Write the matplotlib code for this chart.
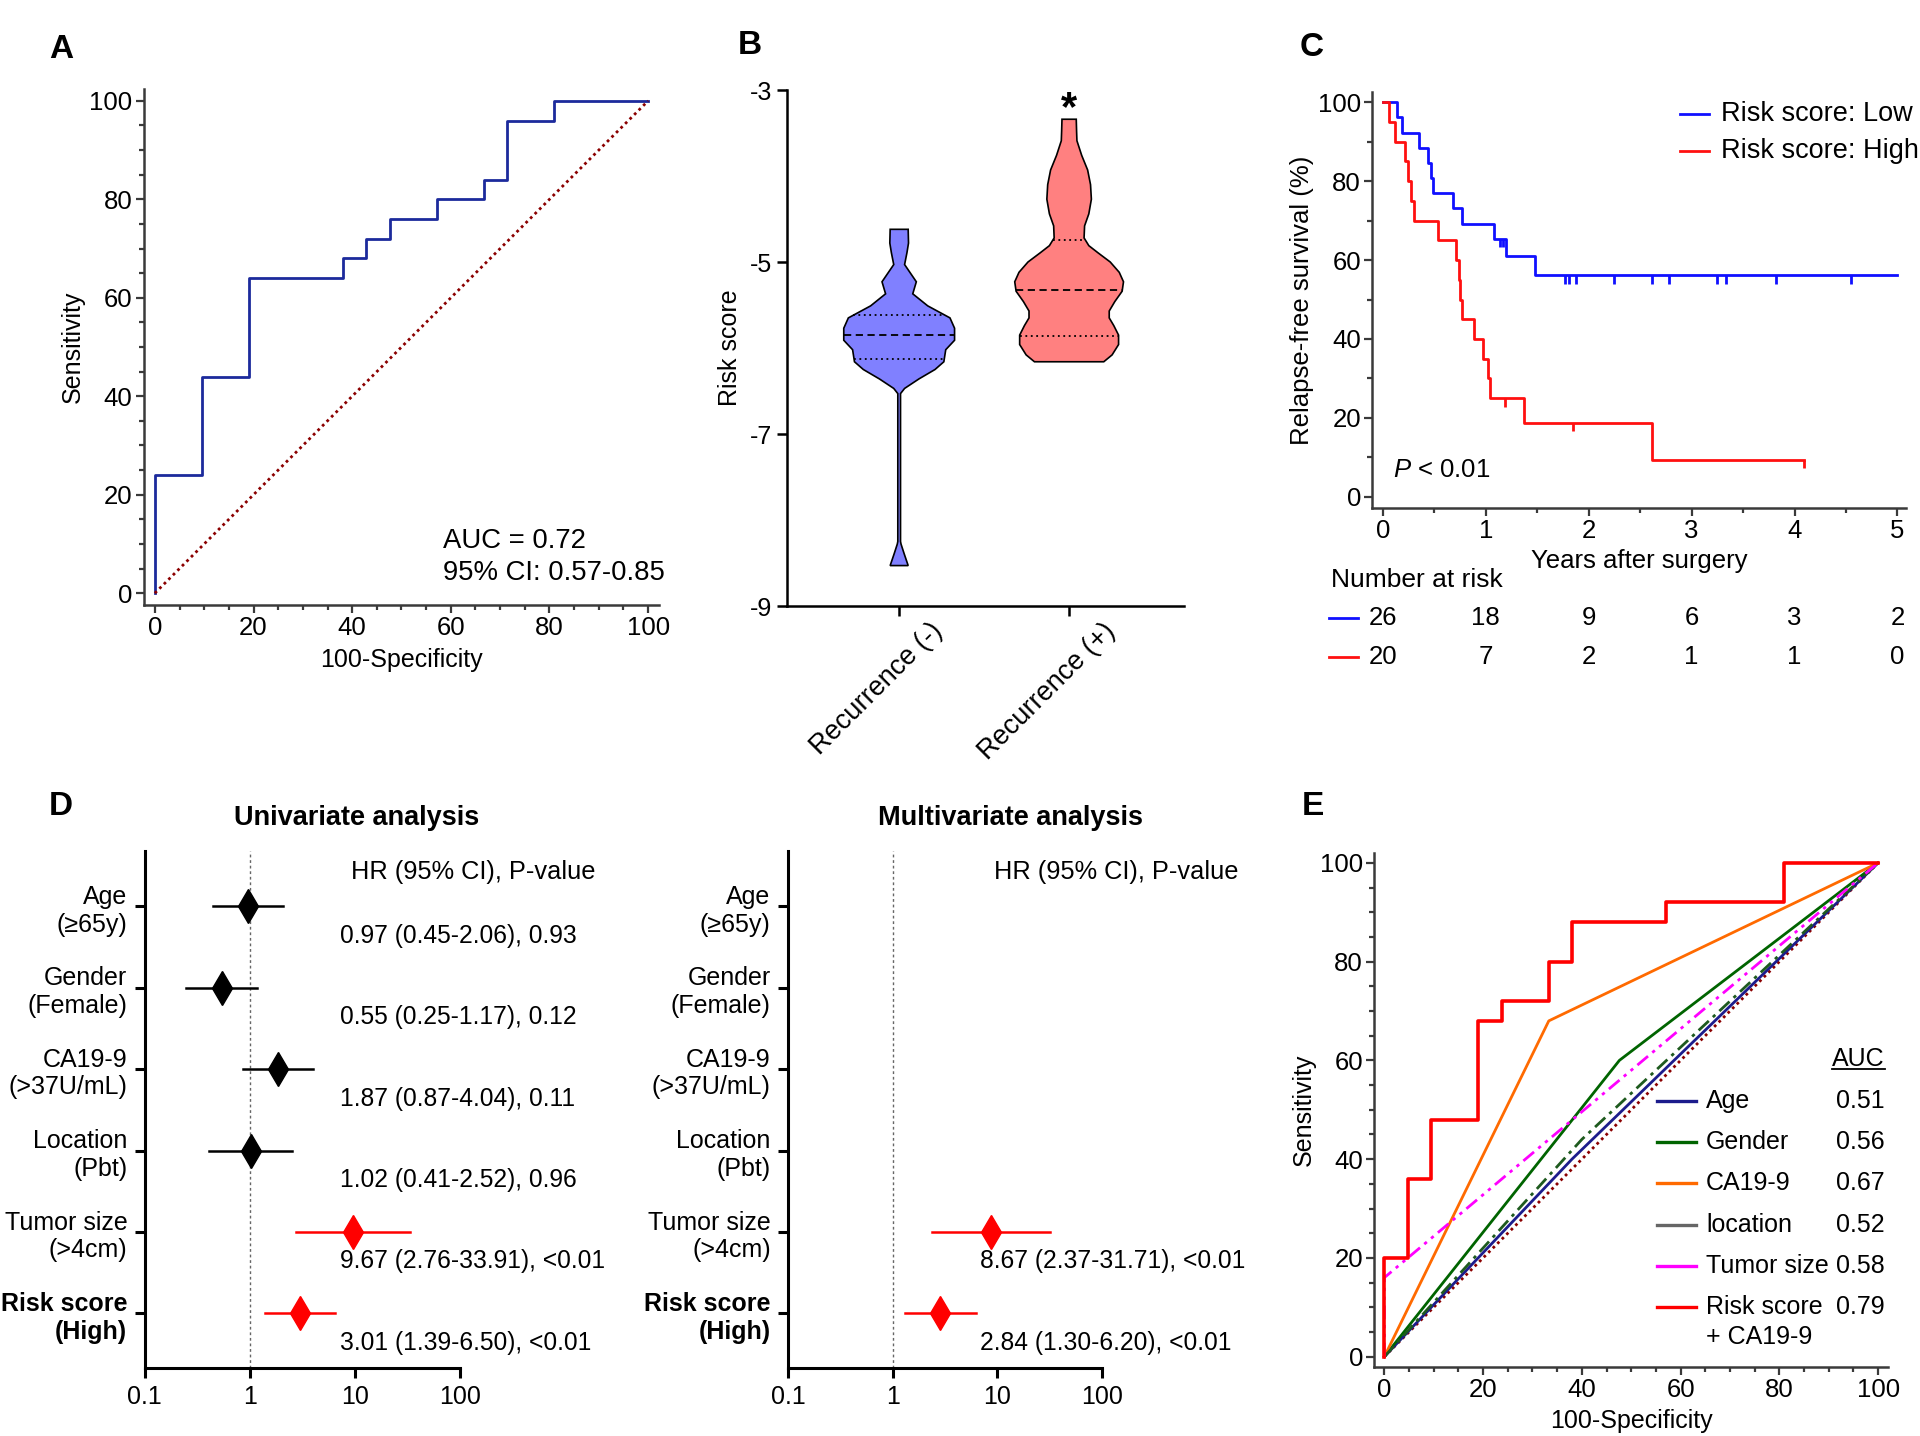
import numpy as np
import matplotlib
matplotlib.use('Agg')
import matplotlib.pyplot as plt
import matplotlib.transforms as mtrans
from matplotlib.ticker import MultipleLocator

plt.rcParams['font.family'] = ['Liberation Sans', 'DejaVu Sans']
plt.rcParams['mathtext.fontset'] = 'custom'
plt.rcParams['mathtext.rm'] = 'Liberation Sans'
plt.rcParams['mathtext.it'] = 'Liberation Sans:italic'
plt.rcParams['axes.unicode_minus'] = False
plt.rcParams['font.size'] = 18

# ---------------- data ----------------
# A: ROC of the risk score
roc_fpr = [0, 0, 9.5, 9.5, 19.0, 19.0, 38.1, 38.1, 42.9, 42.9, 47.6, 47.6,
           57.1, 57.1, 66.7, 66.7, 71.4, 71.4, 81.0, 81.0, 100]
roc_tpr = [0, 24, 24, 44, 44, 64, 64, 68, 68, 72, 72, 76, 76, 80, 80, 84,
           84, 96, 96, 100, 100]
roc_note = ['AUC = 0.72', '95% CI: 0.57-0.85']

# B: violin outlines (risk score level, half width)
groups = ['Recurrence (-)', 'Recurrence (+)']
neg_y = [-4.62, -4.78, -4.89, -5.03, -5.23, -5.37, -5.51, -5.65, -5.77, -5.91,
         -6.02, -6.16, -6.25, -6.36, -6.47, -6.53, -8.25, -8.28, -8.39, -8.53]
neg_w = [0.053, 0.055, 0.046, 0.032, 0.101, 0.080, 0.168, 0.299, 0.326, 0.326,
         0.274, 0.263, 0.211, 0.116, 0.032, 0.008, 0.008, 0.011, 0.029, 0.053]
neg_lines = [-6.13, -5.85, -5.62]   # q1, median, q3
pos_y = [-3.34, -3.48, -3.59, -3.76, -3.93, -4.10, -4.27, -4.44, -4.58, -4.72,
         -4.81, -4.89, -5.00, -5.12, -5.23, -5.34, -5.46, -5.57, -5.65, -5.74,
         -5.85, -5.96, -6.08, -6.16]
pos_w = [0.042, 0.044, 0.046, 0.074, 0.109, 0.126, 0.131, 0.116, 0.091, 0.088,
         0.116, 0.168, 0.242, 0.295, 0.320, 0.312, 0.269, 0.236, 0.236, 0.263,
         0.291, 0.291, 0.253, 0.204]
pos_lines = [-5.86, -5.32, -4.74]

# C: Kaplan-Meier
low_t = [0, 0.14, 0.19, 0.35, 0.44, 0.47, 0.49, 0.68, 0.77, 1.08, 1.20, 1.48, 5.0]
low_s = [100, 96.2, 92.3, 88.5, 84.6, 80.8, 76.9, 73.1, 69.2, 65.4, 61.0, 56.2, 56.2]
low_cens = [1.14, 1.17, 1.77, 1.81, 1.88, 2.25, 2.61, 2.78, 3.25, 3.33, 3.82, 4.55]
high_t = [0, 0.06, 0.12, 0.21, 0.24, 0.27, 0.30, 0.54, 0.71, 0.735, 0.75, 0.77,
          0.89, 0.97, 1.02, 1.04, 1.37, 2.61, 4.09]
high_s = [100, 95, 90, 85, 80, 75, 70, 65, 60, 55, 50, 45, 40, 35, 30, 25,
          18.8, 9.4, 9.4]
high_cens = [1.19, 1.85, 4.09]
risk_years = [0, 1, 2, 3, 4, 5]
risk_low = [26, 18, 9, 6, 3, 2]
risk_high = [20, 7, 2, 1, 1, 0]

# D: Cox regression
factors = ['Age\n(\u226565y)', 'Gender\n(Female)', 'CA19-9\n(>37U/mL)',
           'Location\n(Pbt)', 'Tumor size\n(>4cm)', 'Risk score\n(High)']
uni_hr = [0.97, 0.55, 1.87, 1.02, 9.67, 3.01]
uni_lo = [0.45, 0.25, 0.87, 0.41, 2.76, 1.39]
uni_hi = [2.06, 1.17, 4.04, 2.52, 33.91, 6.50]
uni_p = ['0.93', '0.12', '0.11', '0.96', '<0.01', '<0.01']
nan = np.nan
multi_hr = [nan, nan, nan, nan, 8.67, 2.84]
multi_lo = [nan, nan, nan, nan, 2.37, 1.30]
multi_hi = [nan, nan, nan, nan, 31.71, 6.20]
multi_p = ['', '', '', '', '<0.01', '<0.01']

# E: ROC comparison
e_names = ['Age', 'Gender', 'CA19-9', 'location', 'Tumor size', 'Risk score\n+ CA19-9']
e_auc = ['0.51', '0.56', '0.67', '0.52', '0.58', '0.79']
age_fpr, age_tpr = [0, 38, 100], [0, 40, 100]
gen_fpr, gen_tpr = [0, 47.6, 100], [0, 60, 100]
ca_fpr, ca_tpr = [0, 33.3, 100], [0, 68, 100]
loc_fpr, loc_tpr = [0, 40, 100], [0, 44, 100]
tum_fpr, tum_tpr = [0, 0, 100], [0, 16, 100]
comb_fpr = [0, 0, 4.8, 4.8, 9.5, 9.5, 19.0, 19.0, 23.8, 23.8, 33.3, 33.3,
            38.1, 38.1, 57.1, 57.1, 81.0, 81.0, 100]
comb_tpr = [0, 20, 20, 36, 36, 48, 48, 68, 68, 72, 72, 80, 80, 88, 88, 92,
            92, 100, 100]

# ---------------- figure ----------------
W, H = 1920, 1436
fig = plt.figure(figsize=(W / 100, H / 100), dpi=100)


def box(l, t, r, b):
    return [l / W, 1 - b / H, (r - l) / W, (b - t) / H]


def gray_axes(ax, col='#3a3a3a'):
    for s in ['top', 'right']:
        ax.spines[s].set_visible(False)
    for s in ['left', 'bottom']:
        ax.spines[s].set_color(col)
        ax.spines[s].set_linewidth(1.8)
    ax.tick_params(which='both', direction='out', color=col, width=1.6)
    ax.tick_params(which='major', length=5.5, pad=2.5, labelsize=18.5)
    ax.tick_params(which='minor', length=3.5)


def panel(x, y, s):
    fig.text(x / W, 1 - y / H, s, fontsize=24, weight='bold', ha='center', va='center')


# ----- A -----
axA = fig.add_axes(box(143.5, 89.5, 659, 605))
gray_axes(axA)
axA.plot(roc_fpr, roc_tpr, color='#1c2a9c', lw=2)
axA.plot([0, 100], [0, 100], color='#8b0000', lw=2, ls=(0, (1, 1.3)))
axA.set_xlim(-2.3, 102.2)
axA.set_ylim(-2.4, 102.3)
axA.xaxis.set_major_locator(MultipleLocator(20))
axA.xaxis.set_minor_locator(MultipleLocator(5))
axA.yaxis.set_major_locator(MultipleLocator(20))
axA.yaxis.set_minor_locator(MultipleLocator(5))
axA.set_xlabel('100-Specificity', fontsize=18, labelpad=6)
axA.set_ylabel('Sensitivity', fontsize=18, labelpad=3)
axA.text(58.5, 10.6, roc_note[0], fontsize=19.8, va='center')
axA.text(58.5, 4.1, roc_note[1], fontsize=19.8, va='center')
panel(61, 49, 'A')

# ----- B -----
axB = fig.add_axes(box(787, 90, 1184, 606))
for s in ['top', 'right']:
    axB.spines[s].set_visible(False)
for s in ['left', 'bottom']:
    axB.spines[s].set_linewidth(1.8)
violins = [(neg_y, neg_w, neg_lines, '#8080ff'), (pos_y, pos_w, pos_lines, '#ff8080')]
for i, (vy, vw, ql, fc) in enumerate(violins):
    vy = np.array(vy)
    vw = np.array(vw)
    xs = np.concatenate([i - vw, (i + vw)[::-1]])
    ys = np.concatenate([vy, vy[::-1]])
    axB.fill(xs, ys, facecolor=fc, edgecolor='black', lw=1.2, zorder=2)
    for k, q in enumerate(ql):
        hw = np.interp(q, vy[::-1], vw[::-1])
        axB.plot([i - hw, i + hw], [q, q], color='black', lw=1.3, zorder=3,
                 ls=(0, (4, 2.5)) if k == 1 else (0, (1, 2)))
axB.text(1, -3.22, '*', fontsize=30, weight='bold', ha='center', va='center')
axB.set_xlim(-0.66, 1.676)
axB.set_ylim(-9, -3)
axB.set_yticks([-9, -7, -5, -3])
axB.set_xticks([0, 1])
axB.set_xticklabels([])
lab_tr = (mtrans.blended_transform_factory(axB.transData, axB.transAxes)
          + mtrans.ScaledTranslation(-0.22, -0.12, fig.dpi_scale_trans))
for i, g in enumerate(groups):
    axB.text(i, 0, g, rotation=45, ha='center', va='top', fontsize=19.5, transform=lab_tr)
axB.tick_params(direction='out', length=7, width=1.8)
axB.tick_params(axis='y', labelsize=18)
axB.set_ylabel('Risk score', fontsize=18, labelpad=6)
panel(750, 46, 'B')

# ----- C -----
axC = fig.add_axes(box(1372, 92, 1906, 508))
gray_axes(axC)
for ts, ss, cens, col in [(low_t, low_s, low_cens, '#1010ff'),
                          (high_t, high_s, high_cens, '#ff1010')]:
    axC.plot(ts, ss, drawstyle='steps-post', color=col, lw=2)
    idx = np.searchsorted(ts, cens, side='right') - 1
    cy = np.array(ss)[idx]
    axC.vlines(cens, cy - 2.2, cy, color=col, lw=2)
axC.set_xlim(-0.106, 5.083)
axC.set_ylim(-2.84, 102.6)
axC.xaxis.set_major_locator(MultipleLocator(1))
axC.xaxis.set_minor_locator(MultipleLocator(0.5))
axC.yaxis.set_major_locator(MultipleLocator(20))
axC.yaxis.set_minor_locator(MultipleLocator(10))
axC.set_xlabel('Years after surgery', fontsize=18.5, labelpad=4)
axC.set_ylabel('Relapse-free survival (%)', fontsize=18.5, labelpad=3)
axC.text(0.1, 6.7, '$\\it{P}$ < 0.01', fontsize=18.5, va='center')
leg_rows = [('Risk score: Low', '#1010ff', 0.947), ('Risk score: High', '#ff1010', 0.859)]
for lab, col, yy in leg_rows:
    axC.plot([0.577, 0.631], [yy, yy], color=col, lw=2, transform=axC.transAxes, clip_on=False)
    axC.text(0.653, yy, lab, fontsize=19.5, va='center', transform=axC.transAxes)
tr = mtrans.blended_transform_factory(axC.transData, axC.transAxes)
axC.text(-0.077, -0.173, 'Number at risk', fontsize=19, va='center', transform=axC.transAxes)
for nums, col, yy in [(risk_low, '#1010ff', -0.264), (risk_high, '#ff1010', -0.358)]:
    axC.plot([-0.0805, -0.026], [yy, yy], color=col, lw=2, transform=axC.transAxes, clip_on=False)
    for xv, n in zip(risk_years, nums):
        axC.text(xv, yy, str(n), fontsize=18.5, ha='center', va='center', transform=tr)
panel(1312, 47, 'C')


# ----- D -----
def forest(ax, hr, lo, hi, pv, title, tx, hx, vx):
    rows = np.arange(len(factors))
    for s in ['top', 'right']:
        ax.spines[s].set_visible(False)
    for s in ['left', 'bottom']:
        ax.spines[s].set_linewidth(2.2)
    ax.set_xscale('log')
    ax.set_xlim(0.1, 100)
    ax.set_ylim(5.67, -0.68)
    ax.set_xticks([0.1, 1, 10, 100])
    ax.set_xticklabels(['0.1', '1', '10', '100'])
    ax.xaxis.set_minor_locator(matplotlib.ticker.NullLocator())
    ax.set_yticks(rows)
    ax.set_yticklabels(factors, fontsize=18, linespacing=1.2)
    ax.get_yticklabels()[-1].set_fontweight('bold')
    ax.tick_params(direction='out', length=7.5, width=2.2, labelsize=18, pad=5)
    ax.axvline(1, color='0.4', lw=1, ls=(0, (2, 2)), zorder=1)
    bt = mtrans.blended_transform_factory(ax.transAxes, ax.transData)
    ax.text(hx, -0.42, 'HR (95% CI), P-value', fontsize=18.3, va='center', transform=bt)
    for i in rows:
        if np.isnan(hr[i]):
            continue
        col = 'red' if pv[i].startswith('<') else 'black'
        ax.plot([lo[i], hi[i]], [i, i], color=col, lw=1.8, zorder=2)
        ax.plot(hr[i], i, marker='d', ms=17, color=col, zorder=3)
        ax.text(vx, i + 0.36, f'{hr[i]:.2f} ({lo[i]:.2f}-{hi[i]:.2f}), {pv[i]}',
                fontsize=17.7, va='center', transform=bt)
    ax.text(tx, 1.064, title, fontsize=19.5, weight='bold', ha='center', va='center',
            transform=ax.transAxes)


axD1 = fig.add_axes(box(144.7, 851, 459.7, 1368))
forest(axD1, uni_hr, uni_lo, uni_hi, uni_p, 'Univariate analysis', 0.673, 0.655, 0.62)
axD2 = fig.add_axes(box(788, 851, 1102, 1368))
forest(axD2, multi_hr, multi_lo, multi_hi, multi_p, 'Multivariate analysis', 0.71, 0.655, 0.613)
panel(61, 807, 'D')

# ----- E -----
axE = fig.add_axes(box(1374, 853, 1888, 1367))
gray_axes(axE)
e_styles = [
    (age_fpr, age_tpr, '#1c1c8c', '-', '#1c1c8c'),
    (gen_fpr, gen_tpr, '#006400', '-', '#006400'),
    (ca_fpr, ca_tpr, '#ff6a00', '-', '#ff6a00'),
    (loc_fpr, loc_tpr, '#1e5a1e', (0, (5, 2, 1.2, 2)), '#666666'),
    (tum_fpr, tum_tpr, '#ff00ff', (0, (5, 2, 1.2, 2, 1.2, 2)), '#ff00ff'),
    (comb_fpr, comb_tpr, '#ff0000', '-', '#ff0000'),
]
axE.plot([0, 100], [0, 100], color='#8b0000', lw=2, ls=(0, (1, 1.3)))
for fx, fy, col, ls, _ in e_styles:
    axE.plot(fx, fy, color=col, lw=2.6 if col == '#ff0000' else 2, ls=ls)
axE.set_xlim(-2.1, 102)
axE.set_ylim(-2.1, 102)
axE.xaxis.set_major_locator(MultipleLocator(20))
axE.xaxis.set_minor_locator(MultipleLocator(5))
axE.yaxis.set_major_locator(MultipleLocator(20))
axE.yaxis.set_minor_locator(MultipleLocator(5))
axE.set_xlabel('100-Specificity', fontsize=18, labelpad=5)
axE.set_ylabel('Sensitivity', fontsize=18, labelpad=3)
row_y = 0.5175
row_dy = 0.0802
for i, (name, auc) in enumerate(zip(e_names, e_auc)):
    yy = row_y - i * row_dy
    axE.plot([0.551, 0.627], [yy, yy], color=e_styles[i][4], lw=2.4,
             transform=axE.transAxes, clip_on=False)
    for k, part in enumerate(name.split('\n')):
        axE.text(0.646, yy - k * 0.058, part, fontsize=18, va='center', transform=axE.transAxes)
    axE.text(0.994, yy, auc, fontsize=18, va='center', ha='right', transform=axE.transAxes)
auc_head = axE.text(0.994, 0.599, 'AUC', fontsize=18, va='center', ha='right',
                    transform=axE.transAxes)
fig.canvas.draw()
bb = auc_head.get_window_extent().transformed(axE.transAxes.inverted())
axE.plot([bb.x0, bb.x1], [bb.y0 + 0.004, bb.y0 + 0.004], color='black', lw=1.3,
         transform=axE.transAxes, clip_on=False)
panel(1313, 807, 'E')

fig.savefig('out.png', dpi=100)
